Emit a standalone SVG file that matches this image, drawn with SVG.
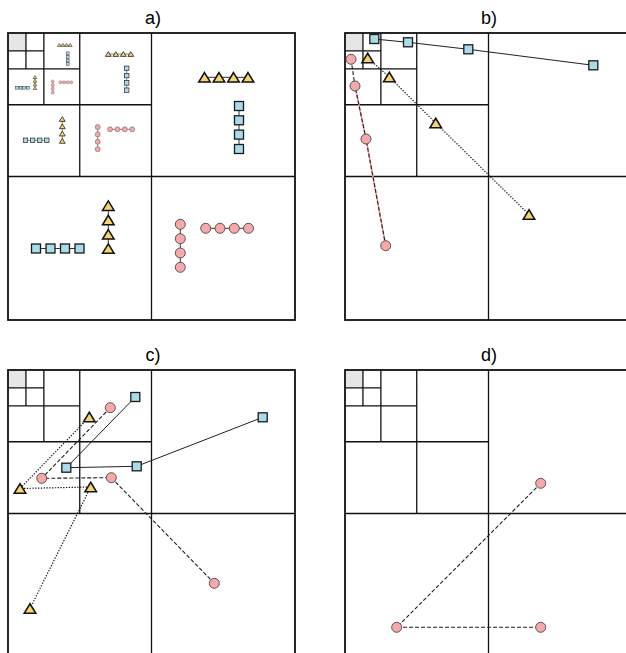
<svg xmlns="http://www.w3.org/2000/svg" width="626" height="653" viewBox="0 0 626 653">
<style>
.lbl{font-family:"Liberation Sans",Arial,sans-serif;font-size:18px;fill:#000;text-anchor:middle}
.sq{fill:#a9dbe9;stroke:#1a1a1a;stroke-width:1.3}
.ci{fill:#f7a8a8;stroke:#555;stroke-width:1}
.tr{fill:#f6d56c;stroke:#111;stroke-width:1.5}
.outer{fill:none;stroke:#111;stroke-width:1.8}
.inner{fill:none;stroke:#111;stroke-width:1.3}
.solid{stroke:#222;stroke-width:1;fill:none}
.dot{stroke:#111;stroke-width:1.2;stroke-dasharray:1.3 1.5;fill:none}
.dash{stroke:#222;stroke-width:1.1;stroke-dasharray:4 2;fill:none}
.pinkl{stroke:#f3a0a0;stroke-width:1.6;fill:none}
.la{stroke:#333;fill:none}
</style>
<defs>
<rect id="sqs" x="-4.5" y="-4.5" width="9" height="9"/>
<circle id="cis" r="5"/>
<path id="trs" d="M0,-4.75 L5.8,4.75 L-5.8,4.75 Z"/>
<g id="grid">
<rect x="0" y="0" width="17.94" height="17.94" fill="#e6e6e6"/>
<path class="inner" d="M143.5,0V287 M0,143.5H287 M71.75,0V143.5 M0,71.75H143.5 M35.875,0V71.75 M0,35.875H71.75 M17.94,0V35.875 M0,17.94H35.875"/>
<rect class="outer" x="0" y="0" width="287" height="287"/>
</g>
</defs>
<rect width="626" height="653" fill="#fff"/>
<g id="labels">
<text class="lbl" x="153" y="24">a)</text>
<text class="lbl" x="489" y="24">b)</text>
<text class="lbl" x="153" y="361">c)</text>
<text class="lbl" x="489" y="361">d)</text>
</g>
<g id="grids">
<use href="#grid" transform="translate(8,33)"/>
<use href="#grid" transform="translate(345,33)"/>
<use href="#grid" transform="translate(8,370)"/>
<use href="#grid" transform="translate(345,370)"/>
</g>
<g id="connectors">
<path class="la" stroke-width="1" d="M204.5,77.3H248 M239,106V149 M36,248.5H79.5 M108.3,205.7V248.6 M180.3,224.3V267.3 M205.7,228.3H248.5"/>
<path class="la" stroke-width="0.6" d="M108.3,54H130.8 M126.7,68.3V90.2 M25.5,140.3H46.8 M62.3,119V140.9 M97.7,127V149.2 M110,129.3H132.2"/>
<path class="la" stroke-width="0.4" d="M59.2,45H70.3 M67.7,53.3V64.1 M17,87.7H27.8 M35,77V88 M52.7,81.5V92.6 M60.5,82.3H71.3"/>
<polyline class="solid" points="374.3,39 408,42.3 468.3,49.3 593.3,65.3"/>
<polyline class="dot" points="367.7,58 389.3,77 435.7,123 529,214.5"/>
<polyline class="pinkl" points="355,86 366,139 385.7,245.7"/>
<polyline class="dash" points="351,59.3 355,86 366,139 385.7,245.7"/>
<polyline class="solid" points="135.3,397 66.3,467.7 136.7,466.3 262.7,417.3"/>
<polyline class="dash" points="110.3,407.7 41.7,478.3 111.3,477.7 214.3,583.3"/>
<polyline class="dot" points="89.3,417 20,488.5 90.7,487 30,608.5"/>
<polyline class="dash" points="540.7,483.3 396.7,627.3 540.7,627.3"/>
</g>
<g id="panel-a-nodes">
<g id="a-tr">
<use href="#trs" class="tr" x="204.5" y="77.3"/><use href="#trs" class="tr" x="219" y="77.3"/><use href="#trs" class="tr" x="233.5" y="77.3"/><use href="#trs" class="tr" x="248" y="77.3"/>
<use href="#sqs" class="sq" x="239" y="106"/><use href="#sqs" class="sq" x="239" y="120.3"/><use href="#sqs" class="sq" x="239" y="134.6"/><use href="#sqs" class="sq" x="239" y="149"/>
</g>
<g id="a-bl">
<use href="#sqs" class="sq" x="36" y="248.5"/><use href="#sqs" class="sq" x="50.5" y="248.5"/><use href="#sqs" class="sq" x="65" y="248.5"/><use href="#sqs" class="sq" x="79.5" y="248.5"/>
<use href="#trs" class="tr" x="108.3" y="205.7"/><use href="#trs" class="tr" x="108.3" y="220"/><use href="#trs" class="tr" x="108.3" y="234.3"/><use href="#trs" class="tr" x="108.3" y="248.6"/>
</g>
<g id="a-br">
<use href="#cis" class="ci" x="180.3" y="224.3"/><use href="#cis" class="ci" x="180.3" y="238.7"/><use href="#cis" class="ci" x="180.3" y="253"/><use href="#cis" class="ci" x="180.3" y="267.3"/>
<use href="#cis" class="ci" x="205.7" y="228.3"/><use href="#cis" class="ci" x="220" y="228.3"/><use href="#cis" class="ci" x="234.3" y="228.3"/><use href="#cis" class="ci" x="248.5" y="228.3"/>
</g>
<g id="a-l2-tr">
<use href="#trs" class="tr" transform="translate(108.3,54) scale(0.5)"/><use href="#trs" class="tr" transform="translate(115.8,54) scale(0.5)"/><use href="#trs" class="tr" transform="translate(123.3,54) scale(0.5)"/><use href="#trs" class="tr" transform="translate(130.8,54) scale(0.5)"/>
<use href="#sqs" class="sq" transform="translate(126.7,68.3) scale(0.5)"/><use href="#sqs" class="sq" transform="translate(126.7,75.6) scale(0.5)"/><use href="#sqs" class="sq" transform="translate(126.7,82.9) scale(0.5)"/><use href="#sqs" class="sq" transform="translate(126.7,90.2) scale(0.5)"/>
</g>
<g id="a-l2-bl">
<use href="#sqs" class="sq" transform="translate(25.5,140.3) scale(0.5)"/><use href="#sqs" class="sq" transform="translate(32.6,140.3) scale(0.5)"/><use href="#sqs" class="sq" transform="translate(39.7,140.3) scale(0.5)"/><use href="#sqs" class="sq" transform="translate(46.8,140.3) scale(0.5)"/>
<use href="#trs" class="tr" transform="translate(62.3,119) scale(0.5)"/><use href="#trs" class="tr" transform="translate(62.3,126.3) scale(0.5)"/><use href="#trs" class="tr" transform="translate(62.3,133.6) scale(0.5)"/><use href="#trs" class="tr" transform="translate(62.3,140.9) scale(0.5)"/>
</g>
<g id="a-l2-br">
<use href="#cis" class="ci" transform="translate(97.7,127) scale(0.5)"/><use href="#cis" class="ci" transform="translate(97.7,134.4) scale(0.5)"/><use href="#cis" class="ci" transform="translate(97.7,141.8) scale(0.5)"/><use href="#cis" class="ci" transform="translate(97.7,149.2) scale(0.5)"/>
<use href="#cis" class="ci" transform="translate(110,129.3) scale(0.5)"/><use href="#cis" class="ci" transform="translate(117.4,129.3) scale(0.5)"/><use href="#cis" class="ci" transform="translate(124.8,129.3) scale(0.5)"/><use href="#cis" class="ci" transform="translate(132.2,129.3) scale(0.5)"/>
</g>
<g id="a-l3-tr">
<use href="#trs" class="tr" transform="translate(59.2,45) scale(0.32)"/><use href="#trs" class="tr" transform="translate(62.9,45) scale(0.32)"/><use href="#trs" class="tr" transform="translate(66.6,45) scale(0.32)"/><use href="#trs" class="tr" transform="translate(70.3,45) scale(0.32)"/>
<use href="#sqs" class="sq" transform="translate(67.7,53.3) scale(0.32)"/><use href="#sqs" class="sq" transform="translate(67.7,56.9) scale(0.32)"/><use href="#sqs" class="sq" transform="translate(67.7,60.5) scale(0.32)"/><use href="#sqs" class="sq" transform="translate(67.7,64.1) scale(0.32)"/>
</g>
<g id="a-l3-bl">
<use href="#sqs" class="sq" transform="translate(17,87.7) scale(0.32)"/><use href="#sqs" class="sq" transform="translate(20.6,87.7) scale(0.32)"/><use href="#sqs" class="sq" transform="translate(24.2,87.7) scale(0.32)"/><use href="#sqs" class="sq" transform="translate(27.8,87.7) scale(0.32)"/>
<use href="#trs" class="tr" transform="translate(35,77) scale(0.32)"/><use href="#trs" class="tr" transform="translate(35,80.7) scale(0.32)"/><use href="#trs" class="tr" transform="translate(35,84.3) scale(0.32)"/><use href="#trs" class="tr" transform="translate(35,88) scale(0.32)"/>
</g>
<g id="a-l3-br">
<use href="#cis" class="ci" transform="translate(52.7,81.5) scale(0.32)"/><use href="#cis" class="ci" transform="translate(52.7,85.2) scale(0.32)"/><use href="#cis" class="ci" transform="translate(52.7,88.9) scale(0.32)"/><use href="#cis" class="ci" transform="translate(52.7,92.6) scale(0.32)"/>
<use href="#cis" class="ci" transform="translate(60.5,82.3) scale(0.32)"/><use href="#cis" class="ci" transform="translate(64.1,82.3) scale(0.32)"/><use href="#cis" class="ci" transform="translate(67.7,82.3) scale(0.32)"/><use href="#cis" class="ci" transform="translate(71.3,82.3) scale(0.32)"/>
</g>
</g>
<g id="panel-b-nodes">
<g id="b-sq1"><use href="#sqs" class="sq" x="374.3" y="39"/></g>
<g id="b-sq2"><use href="#sqs" class="sq" x="408" y="42.3"/></g>
<g id="b-sq3"><use href="#sqs" class="sq" x="468.3" y="49.3"/></g>
<g id="b-sq4"><use href="#sqs" class="sq" x="593.3" y="65.3"/></g>
<g id="b-tr1"><use href="#trs" class="tr" x="367.7" y="58"/></g>
<g id="b-tr2"><use href="#trs" class="tr" x="389.3" y="77"/></g>
<g id="b-tr3"><use href="#trs" class="tr" x="435.7" y="123"/></g>
<g id="b-tr4"><use href="#trs" class="tr" x="529" y="214.5"/></g>
<g id="b-ci1"><use href="#cis" class="ci" x="351" y="59.3"/></g>
<g id="b-ci2"><use href="#cis" class="ci" x="355" y="86"/></g>
<g id="b-ci3"><use href="#cis" class="ci" x="366" y="139"/></g>
<g id="b-ci4"><use href="#cis" class="ci" x="385.7" y="245.7"/></g>
</g>
<g id="panel-c-nodes">
<g id="c-sq1"><use href="#sqs" class="sq" x="135.3" y="397"/></g>
<g id="c-sq2"><use href="#sqs" class="sq" x="66.3" y="467.7"/></g>
<g id="c-sq3"><use href="#sqs" class="sq" x="136.7" y="466.3"/></g>
<g id="c-sq4"><use href="#sqs" class="sq" x="262.7" y="417.3"/></g>
<g id="c-ci1"><use href="#cis" class="ci" x="110.3" y="407.7"/></g>
<g id="c-ci2"><use href="#cis" class="ci" x="41.7" y="478.3"/></g>
<g id="c-ci3"><use href="#cis" class="ci" x="111.3" y="477.7"/></g>
<g id="c-ci4"><use href="#cis" class="ci" x="214.3" y="583.3"/></g>
<g id="c-tr1"><use href="#trs" class="tr" x="89.3" y="417"/></g>
<g id="c-tr2"><use href="#trs" class="tr" x="20" y="488.5"/></g>
<g id="c-tr3"><use href="#trs" class="tr" x="90.7" y="487"/></g>
<g id="c-tr4"><use href="#trs" class="tr" x="30" y="608.5"/></g>
</g>
<g id="panel-d-nodes">
<g id="d-ci1"><use href="#cis" class="ci" x="540.7" y="483.3"/></g>
<g id="d-ci2"><use href="#cis" class="ci" x="396.7" y="627.3"/></g>
<g id="d-ci3"><use href="#cis" class="ci" x="540.7" y="627.3"/></g>
</g>
</svg>
